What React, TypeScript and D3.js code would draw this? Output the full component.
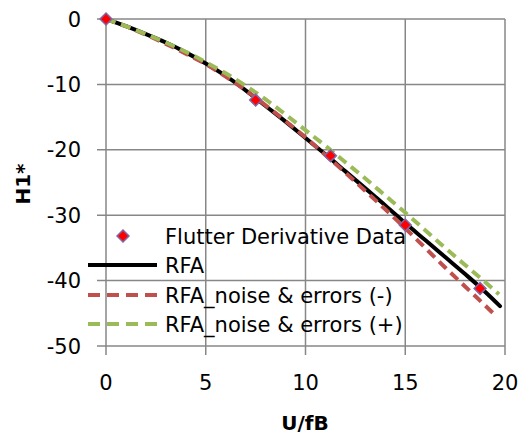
import React, { useEffect, useRef } from "react";
import * as d3 from "d3";

const xTicks = [0, 5, 10, 15, 20];
const yTicks = [0, -10, -20, -30, -40, -50];

// flutter derivative data points
const dataX = [0, 7.5, 11.25, 15, 18.75];
const dataY = [0, -12.4, -20.9, -31.5, -41.2];

// RFA fit
const rfaX = [0, 1, 2, 3, 4, 5, 6, 7, 8, 9, 10, 11, 12, 13, 14, 15, 16, 17, 18, 19, 19.75];
const rfaY = [0, -1.1, -2.3, -3.6, -5.1, -6.8, -8.7, -10.9, -13.3, -15.7, -18.2, -20.7, -23.3, -25.9, -28.5, -31.2, -33.8, -36.4, -39.0, -41.7, -43.9];

// RFA_noise & errors (-)
const minusX = [0, 1, 2, 3, 4, 5, 6, 7, 8, 9, 10, 11, 12, 13, 14, 15, 16, 17, 18, 19, 19.55];
const minusY = [0, -1.1, -2.4, -3.8, -5.3, -6.9, -8.8, -10.9, -13.2, -15.6, -18.1, -20.8, -23.5, -26.3, -29.1, -32.0, -35.0, -38.0, -40.9, -43.8, -45.4];

// RFA_noise & errors (+)
const plusX = [0, 1, 2, 3, 4, 5, 6, 7, 8, 9, 10, 11, 12, 13, 14, 15, 16, 17, 18, 19, 19.7];
const plusY = [0, -1.1, -2.3, -3.6, -5.0, -6.6, -8.3, -10.2, -12.3, -14.6, -17.0, -19.4, -21.9, -24.4, -27.0, -29.6, -32.3, -35.0, -37.6, -40.2, -42.1];

const legendLabels = [
  "Flutter Derivative Data",
  "RFA",
  "RFA_noise & errors (-)",
  "RFA_noise & errors (+)",
];

const font = "'DejaVu Sans', sans-serif";

export default function App() {
  const svgRef = useRef<SVGSVGElement>(null);
  const width = 522;
  const height = 438;

  useEffect(() => {
    const svg = d3.select(svgRef.current);
    svg.selectAll("*").remove();

    const x = d3.scaleLinear().domain([0, 20]).range([106, 505]);
    const y = d3.scaleLinear().domain([-50, 0]).range([346, 19]);
    const grid = "#878787";

    // gridlines + tick marks
    svg
      .append("g")
      .selectAll("line")
      .data(xTicks)
      .enter()
      .append("line")
      .attr("x1", (d) => x(d))
      .attr("x2", (d) => x(d))
      .attr("y1", y(0))
      .attr("y2", y(-50) + 9)
      .attr("stroke", grid)
      .attr("stroke-width", 1.5);

    svg
      .append("g")
      .selectAll("line")
      .data(yTicks)
      .enter()
      .append("line")
      .attr("x1", x(0) - 9)
      .attr("x2", x(20))
      .attr("y1", (d) => y(d))
      .attr("y2", (d) => y(d))
      .attr("stroke", grid)
      .attr("stroke-width", 1.5);

    // tick labels
    svg
      .append("g")
      .selectAll("text")
      .data(yTicks)
      .enter()
      .append("text")
      .attr("x", 81)
      .attr("y", (d) => y(d) + 7.5)
      .attr("text-anchor", "end")
      .attr("font-family", font)
      .attr("font-size", 21)
      .text((d) => d);

    svg
      .append("g")
      .selectAll("text")
      .data(xTicks)
      .enter()
      .append("text")
      .attr("x", (d) => x(d))
      .attr("y", 390)
      .attr("text-anchor", "middle")
      .attr("font-family", font)
      .attr("font-size", 21)
      .text((d) => d);

    // axis titles
    svg
      .append("text")
      .attr("x", 305)
      .attr("y", 430)
      .attr("text-anchor", "middle")
      .attr("font-family", font)
      .attr("font-weight", "bold")
      .attr("font-size", 20)
      .text("U/fB");

    svg
      .append("text")
      .attr("transform", "translate(30,184) rotate(-90)")
      .attr("text-anchor", "middle")
      .attr("font-family", font)
      .attr("font-weight", "bold")
      .attr("font-size", 20)
      .text("H1*");

    const makePath = (xs: number[], ys: number[]) =>
      d3
        .line<[number, number]>()
        .x((d) => x(d[0]))
        .y((d) => y(d[1]))
        .curve(d3.curveMonotoneX)(xs.map((v, i) => [v, ys[i]]));

    svg
      .append("path")
      .attr("d", makePath(rfaX, rfaY))
      .attr("fill", "none")
      .attr("stroke", "#000")
      .attr("stroke-width", 4)
      .attr("stroke-linecap", "round");

    svg
      .append("path")
      .attr("d", makePath(minusX, minusY))
      .attr("fill", "none")
      .attr("stroke", "#c0504d")
      .attr("stroke-width", 4)
      .attr("stroke-dasharray", "10 6");

    svg
      .append("path")
      .attr("d", makePath(plusX, plusY))
      .attr("fill", "none")
      .attr("stroke", "#9bbb59")
      .attr("stroke-width", 4)
      .attr("stroke-dasharray", "10 6");

    const diamond = d3.symbol().type(d3.symbolDiamond2).size(90);

    svg
      .append("g")
      .selectAll("path")
      .data(dataX)
      .enter()
      .append("path")
      .attr("d", diamond)
      .attr("transform", (d, i) => `translate(${x(d)},${y(dataY[i])})`)
      .attr("fill", "#ff0000")
      .attr("stroke", "#7f68a8")
      .attr("stroke-width", 1.5);

    // legend (no background, gridlines show through)
    const rows = [236, 265, 295, 324];
    const legend = svg.append("g");
    legend
      .append("path")
      .attr("d", diamond)
      .attr("transform", `translate(123,${rows[0]})`)
      .attr("fill", "#ff0000")
      .attr("stroke", "#7f68a8")
      .attr("stroke-width", 1.5);
    legend
      .append("line")
      .attr("x1", 88)
      .attr("x2", 157)
      .attr("y1", rows[1])
      .attr("y2", rows[1])
      .attr("stroke", "#000")
      .attr("stroke-width", 4);
    legend
      .append("line")
      .attr("x1", 88)
      .attr("x2", 157)
      .attr("y1", rows[2])
      .attr("y2", rows[2])
      .attr("stroke", "#c0504d")
      .attr("stroke-width", 4)
      .attr("stroke-dasharray", "12 7");
    legend
      .append("line")
      .attr("x1", 88)
      .attr("x2", 157)
      .attr("y1", rows[3])
      .attr("y2", rows[3])
      .attr("stroke", "#9bbb59")
      .attr("stroke-width", 4)
      .attr("stroke-dasharray", "12 7");
    legend
      .selectAll("text")
      .data(legendLabels)
      .enter()
      .append("text")
      .attr("x", 165)
      .attr("y", (d, i) => rows[i] + 7.5)
      .attr("font-family", font)
      .attr("font-size", 21)
      .text((d) => d);
  }, []);

  return (
    <svg
      ref={svgRef}
      width={width}
      height={height}
      style={{ position: "absolute", left: 0, top: 0, background: "#fff" }}
    ></svg>
  );
}
